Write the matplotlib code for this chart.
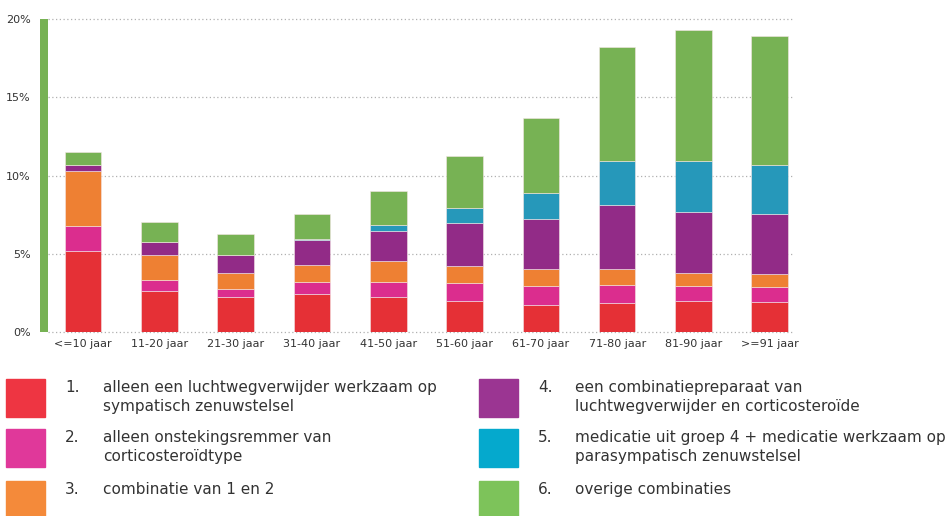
import matplotlib
matplotlib.use("Agg")
import matplotlib.pyplot as plt
from matplotlib.patches import Rectangle
import numpy as np

categories = ["<=10 jaar", "11-20 jaar", "21-30 jaar", "31-40 jaar", "41-50 jaar",
              "51-60 jaar", "61-70 jaar", "71-80 jaar", "81-90 jaar", ">=91 jaar"]

g1_sympatisch = [5.15, 2.60, 2.23, 2.44, 2.23, 1.96, 1.72, 1.83, 1.96, 1.91]
g2_ontstekingsremmer = [1.65, 0.75, 0.53, 0.73, 0.94, 1.19, 1.19, 1.19, 0.99, 0.96]
g3_combi_1_2 = [3.50, 1.55, 0.98, 1.08, 1.36, 1.06, 1.11, 1.00, 0.79, 0.81]
g4_combipreparaat = [0.40, 0.85, 1.15, 1.60, 1.93, 2.77, 3.21, 4.10, 3.94, 3.89]
g5_groep4_parasymp = [0.00, 0.00, 0.00, 0.12, 0.37, 0.95, 1.66, 2.79, 3.23, 3.13]
g6_overige = [0.83, 1.30, 1.36, 1.54, 2.19, 3.30, 4.79, 7.32, 8.40, 8.21]

legend_numbers = ["1.", "2.", "3.", "4.", "5.", "6."]
legend_labels = [
    "alleen een luchtwegverwijder werkzaam op\nsympatisch zenuwstelsel",
    "alleen onstekingsremmer van\ncorticosteroïdtype",
    "combinatie van 1 en 2",
    "een combinatiepreparaat van\nluchtwegverwijder en corticosteroïde",
    "medicatie uit groep 4 + medicatie werkzaam op\nparasympatisch zenuwstelsel",
    "overige combinaties",
]
y_ticks = [0, 5, 10, 15, 20]
y_ticklabels = ["0%", "5%", "10%", "15%", "20%"]

series = [g1_sympatisch, g2_ontstekingsremmer, g3_combi_1_2,
          g4_combipreparaat, g5_groep4_parasymp, g6_overige]
bar_colors = ["#E53036", "#DB2D8E", "#EE8033", "#922B87", "#2698BA", "#77B254"]
legend_colors = ["#EE3542", "#E0389A", "#F48A3A", "#9B3592", "#05A9CD", "#7DC35A"]

W, H = 952, 516
fig = plt.figure(figsize=(W / 100, H / 100), dpi=100)
ax = fig.add_axes([48 / W, 184 / H, (793 - 48) / W, 313 / H])

x = np.arange(len(categories))
bottom = np.zeros(len(categories))
for vals, col in zip(series, bar_colors):
    v = np.array(vals)
    ax.bar(x, v, bottom=bottom, width=0.48, color=col, edgecolor="#f4e6e6",
           linewidth=0.4, zorder=3)
    bottom += v

ax.set_xlim(-0.459, 9.305)
ax.set_ylim(0, 20)
ax.set_yticks(y_ticks)
ax.set_yticklabels(y_ticklabels)
ax.set_xticks(x)
ax.set_xticklabels(categories)
ax.tick_params(axis="both", length=0, labelsize=8, colors="#333333")
ax.tick_params(axis="y", pad=9.4)
ax.tick_params(axis="x", pad=5)
for lab in ax.get_yticklabels():
    lab.set_verticalalignment("center")

for yv in y_ticks:
    ax.axhline(yv, color="#b0b0b0", linestyle=(0, (1, 2)), linewidth=0.9,
               zorder=1, clip_on=False)

for s in ["top", "right", "bottom"]:
    ax.spines[s].set_visible(False)
ax.spines["left"].set_color("#77B254")
ax.spines["left"].set_linewidth(5.76)
ax.spines["left"].set_capstyle("butt")
ax.spines["left"].set_position(("outward", 2.88))

# legend
col_x = [(6, 65, 103), (479, 538, 575)]
row_top = [379, 429, 481]
for i, (num, lab, col) in enumerate(zip(legend_numbers, legend_labels, legend_colors)):
    c = i // 3
    r = i % 3
    sx, nx, tx = col_x[c]
    top = row_top[r]
    fig.patches.append(Rectangle((sx / W, 1 - (top + 38) / H), 39 / W, 38 / H,
                                 transform=fig.transFigure, color=col))
    fig.text(nx / W, 1 - (top + 1) / H, num, fontsize=11, color="#333333",
             va="top", ha="left", linespacing=1.32)
    fig.text(tx / W, 1 - (top + 1) / H, lab, fontsize=11, color="#333333",
             va="top", ha="left", linespacing=1.32)

fig.savefig("out.png", dpi=100)
